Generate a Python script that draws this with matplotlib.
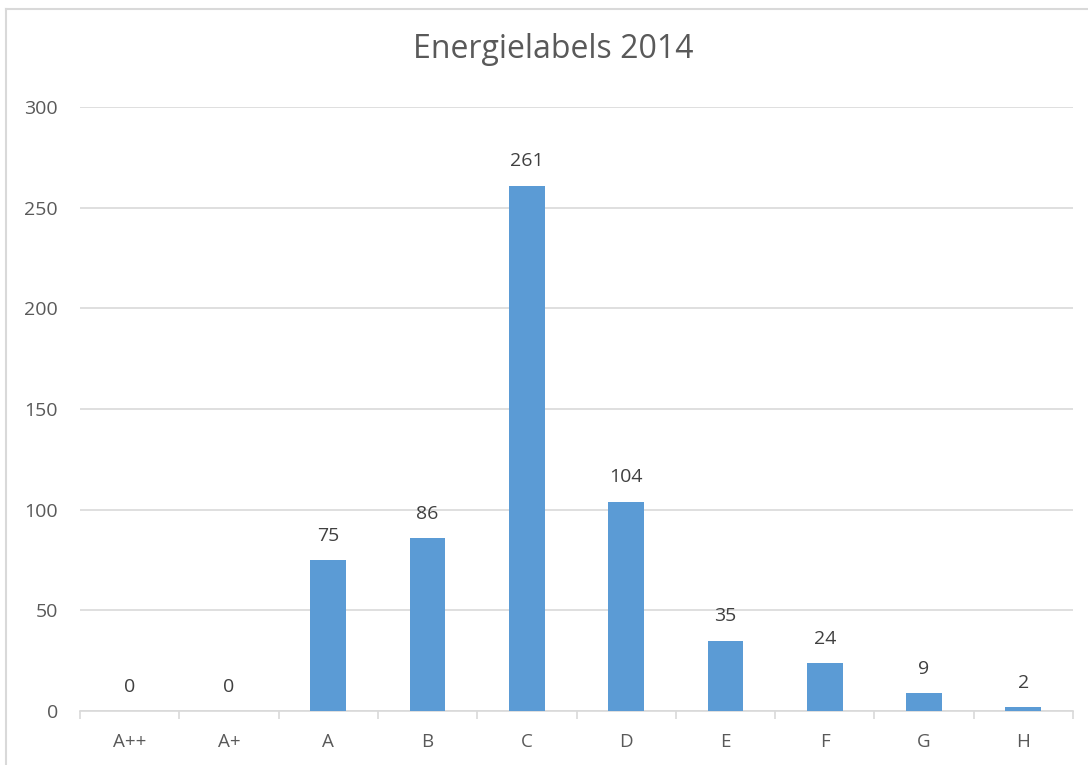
import matplotlib
matplotlib.use("Agg")
import matplotlib.pyplot as plt
from matplotlib.lines import Line2D

categories = ["A++", "A+", "A", "B", "C", "D", "E", "F", "G", "H"]
values = [0, 0, 75, 86, 261, 104, 35, 24, 9, 2]
yticks = [0, 50, 100, 150, 200, 250, 300]
title = "Energielabels 2014"

plt.rcParams['font.family'] = ['Open Sans', 'DejaVu Sans']

fig = plt.figure(figsize=(10.88, 7.65), dpi=100)
ax = fig.add_axes([80/1088, 1-711/765, (1073-80)/1088, (711-107)/765])

x = list(range(len(categories)))
ax.bar(x, values, width=0.36, color="#5B9BD5", zorder=3)
for xi, v in zip(x, values):
    ax.text(xi, v + 12, str(v), ha="center", va="center", fontsize=14, color="#404040")

ax.set_xlim(-0.5, len(categories) - 0.5)
ax.set_ylim(0, 300)
ax.set_yticks(yticks)
ax.set_yticklabels([str(t) for t in yticks])
ax.yaxis.grid(True, color="#D9D9D9", linewidth=1.2, zorder=0)
ax.tick_params(axis="y", length=0, pad=16, labelsize=14, labelcolor="#595959")
ax.set_xticks(x)
ax.set_xticklabels(categories)
ax.tick_params(axis="x", length=0, pad=16, labelsize=13.5, labelcolor="#595959")
ax.set_xticks([i - 0.5 for i in range(len(categories) + 1)], minor=True)
ax.tick_params(axis="x", which="minor", length=6, color="#D9D9D9", width=1.2)
for s in ["top", "right", "left"]:
    ax.spines[s].set_visible(False)
ax.spines["bottom"].set_color("#D9D9D9")
ax.spines["bottom"].set_linewidth(1.2)

fig.text(553/1088, 1-50/765, title, ha="center", va="center", fontsize=23, color="#595959")

fig.add_artist(Line2D([6/1088, 6/1088], [-0.1, 1-9/765], transform=fig.transFigure, color="#D9D9D9", linewidth=1.5))
fig.add_artist(Line2D([6/1088, 1.1], [1-9/765, 1-9/765], transform=fig.transFigure, color="#D9D9D9", linewidth=1.5))

fig.savefig("out.png", dpi=100)
